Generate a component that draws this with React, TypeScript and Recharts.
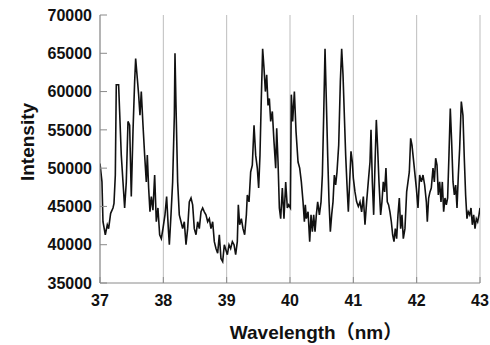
import React from 'react';
import { LineChart, Line, XAxis, YAxis, CartesianGrid, Label } from 'recharts';

const wavelengths = [
  37.000, 37.031, 37.047, 37.084, 37.115, 37.136, 37.168, 37.205, 37.221, 37.242,
  37.257, 37.294, 37.310, 37.336, 37.363, 37.389, 37.415, 37.442, 37.468, 37.494,
  37.521, 37.547, 37.563, 37.589, 37.610, 37.631, 37.652, 37.679, 37.705, 37.731,
  37.747, 37.768, 37.789, 37.810, 37.836, 37.863, 37.889, 37.915, 37.942, 37.968,
  37.994,
  38.026, 38.052, 38.079, 38.095, 38.121, 38.147, 38.174, 38.184, 38.200, 38.226,
  38.252, 38.279, 38.305, 38.331, 38.358, 38.384, 38.410, 38.437, 38.463, 38.489,
  38.516, 38.542, 38.568, 38.595, 38.621, 38.647, 38.673, 38.700, 38.726, 38.752,
  38.779, 38.805, 38.831, 38.858, 38.884, 38.910, 38.937, 38.963,
  39.011, 39.037, 39.063, 39.090, 39.116, 39.142, 39.168, 39.184, 39.205, 39.232,
  39.258, 39.284, 39.311, 39.326, 39.353, 39.379, 39.405, 39.432, 39.458, 39.484,
  39.505, 39.526, 39.547, 39.568, 39.590, 39.611, 39.632, 39.653, 39.674, 39.695,
  39.721, 39.747, 39.774, 39.790, 39.811, 39.832, 39.853, 39.879, 39.905, 39.932,
  39.958,
  39.979, 40.006, 40.021, 40.042, 40.069, 40.095, 40.127, 40.153, 40.179, 40.206,
  40.227, 40.242, 40.258, 40.285, 40.311, 40.332, 40.353, 40.374, 40.395, 40.416,
  40.437, 40.464, 40.490, 40.511, 40.532, 40.553, 40.574, 40.595, 40.616, 40.637,
  40.658, 40.679, 40.700, 40.721, 40.742, 40.769, 40.795, 40.816, 40.837, 40.858,
  40.879, 40.900, 40.921, 40.942, 40.963, 40.984,
  41.000, 41.026, 41.052, 41.079, 41.105, 41.131, 41.158, 41.184, 41.210, 41.236,
  41.263, 41.279, 41.300, 41.321, 41.342, 41.363, 41.384, 41.405, 41.431, 41.452,
  41.473, 41.494, 41.515, 41.536, 41.557, 41.578, 41.600, 41.621, 41.642, 41.663,
  41.684, 41.705, 41.726, 41.747, 41.768, 41.789, 41.815, 41.842, 41.863, 41.884,
  41.905, 41.926, 41.947,
  41.995, 42.021, 42.047, 42.074, 42.100, 42.126, 42.153, 42.168, 42.189, 42.210,
  42.231, 42.258, 42.279, 42.300, 42.321, 42.342, 42.363, 42.384, 42.405, 42.426,
  42.447, 42.468, 42.489, 42.510, 42.531, 42.552, 42.574, 42.595, 42.616, 42.637,
  42.658, 42.679, 42.705, 42.731, 42.752, 42.773, 42.794, 42.815, 42.837, 42.858,
  42.879, 42.900, 42.921, 42.942, 42.963, 42.984, 43.000,
];

const intensities = [
  50600, 48200, 43000, 41300, 42600, 42100, 44100, 44800, 45400, 49100,
  60900, 60900, 57400, 51700, 48200, 44800, 48200, 56100, 55600, 46300,
  54800, 61300, 64300, 61700, 59600, 56900, 60000, 55600, 51700, 48200,
  51700, 47400, 44300, 46300, 44500, 49100, 43000, 44800, 41300, 40800,
  42100,
  43900, 46300, 42100, 40000, 43900, 48200, 56900, 65000, 58200, 48200,
  43900, 43000, 42100, 43000, 40000, 42100, 45600, 46100, 45200, 42100,
  41300, 43000, 42100, 44300, 44800, 44300, 43900, 43000, 43400, 42100,
  43000, 40400, 39500, 38900, 41300, 38200, 37800, 40000,
  38700, 40000, 39500, 40400, 40000, 38700, 40400, 45200, 42600, 43400,
  42100, 41300, 43900, 46500, 45600, 49500, 50400, 55600, 51700, 50000,
  47400, 51700, 59100, 65600, 63000, 60000, 62200, 58200, 59100, 56100,
  57400, 53500, 50000, 55200, 50800, 44800, 43400, 47400, 43400, 48200,
  44800,
  45200, 44800, 59600, 56100, 60000, 54800, 50800, 50000, 48200, 45600,
  43000, 45200, 43400, 44300, 40400, 43900, 41700, 43900, 41700, 43900,
  45600, 43900, 45600, 49100, 56900, 65600, 58700, 51700, 45600, 41700,
  43900, 45600, 49100, 47800, 49500, 53000, 61300, 65600, 62200, 56900,
  51700, 47800, 44300, 48200, 52200, 50800,
  48700, 46900, 45600, 45000, 45600, 44300, 46300, 42600, 45600, 48200,
  50800, 55000, 48200, 43900, 50400, 56300, 52600, 48200, 43900, 45600,
  48200, 46900, 50000, 45600, 45200, 44300, 43000, 41300, 40400, 42100,
  40800, 43900, 46100, 42100, 43900, 40800, 42100, 46900, 48200, 49500,
  53900, 53000, 51300,
  47400, 44800, 49100, 48200, 49100, 47800, 45600, 43000, 46100, 46900,
  47400, 50000, 48200, 51300, 50400, 46500, 48200, 45600, 48200, 44300,
  46100, 45200, 46100, 51700, 57800, 53500, 48200, 46500, 47800, 44800,
  49100, 52600, 58700, 56900, 51300, 46500, 43400, 44300, 43900, 44800,
  42600, 43900, 42100, 43400, 43000, 43900, 44800,
];

const xTicks = [37, 38, 39, 40, 41, 42, 43];
const yTicks = [35000, 40000, 45000, 50000, 55000, 60000, 65000, 70000];

const data = wavelengths.map((w, i) => ({ w, v: intensities[i] }));

const FONT = "'Liberation Sans', Arial, 'Noto Sans CJK SC', sans-serif";
const tickStyle = { fontFamily: FONT, fontWeight: 700, fontSize: 16, fill: '#111' };

export default function App() {
  return (
    <div style={{ position: 'absolute', left: 0, top: 0, background: '#fff' }}>
      <LineChart
        width={490}
        height={345}
        data={data}
        margin={{ top: 15, right: 10, bottom: 0, left: 0 }}
      >
        <CartesianGrid
          xAxisId="b"
          yAxisId="l"
          horizontal={false}
          stroke="#bdbdbd"
          strokeWidth={1}
        />
        <XAxis
          xAxisId="b"
          dataKey="w"
          type="number"
          domain={[37, 43]}
          ticks={xTicks}
          allowDataOverflow
          height={62}
          stroke="#8a8a8a"
          tickSize={-6}
          tickMargin={18}
          tick={tickStyle}
          interval={0}
        >
          <Label
            value="Wavelength（nm）"
            position="center"
            dx={26}
            dy={18}
            style={{ fontFamily: FONT, fontWeight: 700, fontSize: 19, fill: '#111' }}
          />
        </XAxis>
        <XAxis
          xAxisId="t"
          orientation="top"
          dataKey="w"
          type="number"
          domain={[37, 43]}
          ticks={xTicks}
          height={0}
          stroke="#8a8a8a"
          tick={false}
          tickLine={false}
        />
        <YAxis
          yAxisId="l"
          type="number"
          domain={[35000, 70000]}
          ticks={yTicks}
          allowDataOverflow
          width={100}
          stroke="#8a8a8a"
          tickSize={-7}
          tickMargin={15}
          tick={tickStyle}
          interval={0}
        >
          <Label
            value="Intensity"
            angle={-90}
            position="center"
            dx={-23}
            dy={-7}
            style={{ fontFamily: FONT, fontWeight: 700, fontSize: 19, fill: '#111', textAnchor: 'middle' }}
          />
        </YAxis>
        <YAxis
          yAxisId="r"
          orientation="right"
          type="number"
          domain={[35000, 70000]}
          width={0}
          stroke="#8a8a8a"
          tick={false}
          tickLine={false}
        />
        <Line
          xAxisId="b"
          yAxisId="l"
          type="linear"
          dataKey="v"
          stroke="#111"
          strokeWidth={1.6}
          dot={false}
          isAnimationActive={false}
        />
      </LineChart>
    </div>
  );
}
